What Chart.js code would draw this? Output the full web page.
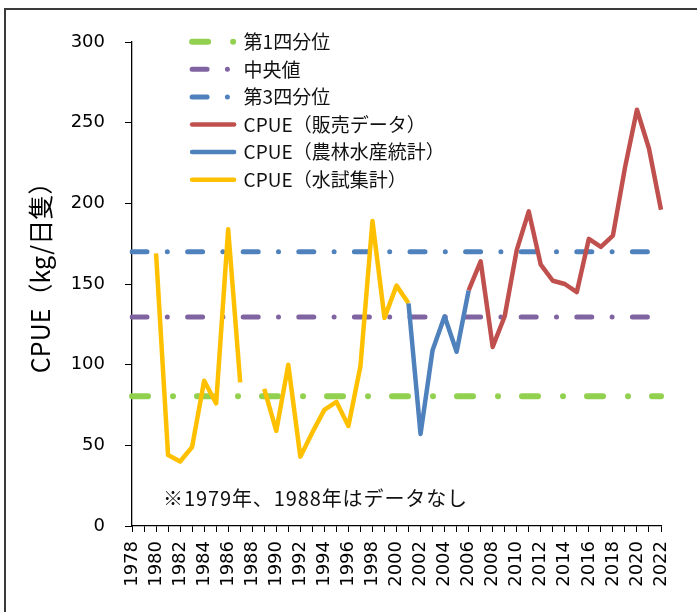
<!DOCTYPE html>
<html><head><meta charset="utf-8">
<script src="https://cdn.jsdelivr.net/npm/chart.js@4.4.1/dist/chart.umd.min.js"></script>
<style>
html,body{margin:0;padding:0;background:#fff;}
#wrap{position:relative;width:697px;height:612px;overflow:hidden;background:#fff;}
#frame{position:absolute;left:4px;top:8px;width:800px;height:800px;border-top:2px solid #3a3a3a;border-left:2px solid #3a3a3a;pointer-events:none;}
#note{position:absolute;left:163px;top:485px;font-size:20px;letter-spacing:0.9px;font-family:"Noto Sans CJK JP";color:#111;white-space:nowrap;line-height:26px;}
canvas{position:absolute;left:0;top:0;}
</style></head>
<body><div id="wrap"><canvas id="c" width="697" height="612"></canvas><div id="frame"></div><div id="note">※1979年、1988年はデータなし</div></div>
<script>
const years = ['1978','1979','1980','1981','1982','1983','1984','1985','1986','1987','1988','1989','1990','1991','1992','1993','1994','1995','1996','1997','1998','1999','2000','2001','2002','2003','2004','2005','2006','2007','2008','2009','2010','2011','2012','2013','2014','2015','2016','2017','2018','2019','2020','2021','2022'];
// CPUE（水試集計） 1978-2022
const cpueSurvey = [null,null,169,44,40,49,90,76,184,89,null,85,59,100,43,58,72,77,62,99,189,129,149,138,
  null,null,null,null,null,null,null,null,null,null,null,null,null,null,null,null,null,null,null,null,null];
// CPUE（農林水産統計） 1978-2022
const cpueStats = [null,null,null,null,null,null,null,null,null,null,null,null,null,null,null,null,null,null,null,null,null,null,null,
  138,57,109,130,108,146,
  null,null,null,null,null,null,null,null,null,null,null,null,null,null,null,null];
// CPUE（販売データ） 1978-2022
const cpueSales = [null,null,null,null,null,null,null,null,null,null,null,null,null,null,null,null,null,null,null,null,null,null,null,null,null,null,null,null,
  146,164,111,130,171,195,162,152,150,145,178,173,180,222,258,234,196];
const quartile1 = 80.5;
const medianValue = 129.5;
const quartile3 = 170;
const yTicks = [0,50,100,150,200,250,300];

const JP = '"Noto Sans CJK JP"';
const TICKF = '"DejaVu Sans"';

function refLine(v){ return [{x: years[0], y: v}, {x: years[years.length-1], y: v}]; }

const legendPlace = {
  id: 'legendPlace',
  afterLayout(chart) {
    const lg = chart.legend;
    const w = lg.width;
    lg.left = 183.5; lg.right = lg.left + w;
    lg.top = 23.6; lg.bottom = lg.top + 470;
  }
};

new Chart(document.getElementById('c'), {
  type: 'line',
  data: {
    labels: years,
    datasets: [
      {label: '第1四分位', data: refLine(quartile1), borderColor: '#92D050', backgroundColor: '#92D050', borderWidth: 6, borderDash: [16, 25, 0, 24], borderCapStyle: 'round', order: 1},
      {label: '中央値', data: refLine(medianValue), borderColor: '#8064A2', backgroundColor: '#8064A2', borderWidth: 5, borderDash: [15, 20.3, 0, 20.3], borderCapStyle: 'round', order: 1},
      {label: '第3四分位', data: refLine(quartile3), borderColor: '#4F81BD', backgroundColor: '#4F81BD', borderWidth: 5, borderDash: [15, 20.3, 0, 20.3], borderCapStyle: 'round', order: 1},
      {label: 'CPUE（販売データ）', data: cpueSales, borderColor: '#C0504D', backgroundColor: '#C0504D', borderWidth: 4.5, order: 0},
      {label: 'CPUE（農林水産統計）', data: cpueStats, borderColor: '#4F81BD', backgroundColor: '#4F81BD', borderWidth: 4.5, order: 0},
      {label: 'CPUE（水試集計）', data: cpueSurvey, borderColor: '#FFC000', backgroundColor: '#FFC000', borderWidth: 4.5, order: 0}
    ]
  },
  options: {
    responsive: false,
    animation: false,
    spanGaps: false,
    layout: {padding: {left: 0, top: 42, right: 36, bottom: 0}},
    elements: {
      point: {radius: 0, hoverRadius: 0},
      line: {tension: 0, borderJoinStyle: 'round', fill: false}
    },
    plugins: {
      tooltip: {enabled: false},
      legend: {
        position: 'chartArea',
        align: 'start',
        labels: {
          usePointStyle: true,
          pointStyleWidth: 42,
          boxHeight: 10,
          padding: 8.6,
          color: '#111',
          font: {family: JP, size: 19},
          generateLabels(chart) {
            return chart.data.datasets.map((ds, i) => ({
              text: ds.label,
              fillStyle: ds.borderColor,
              strokeStyle: ds.borderColor,
              lineWidth: ds.borderWidth,
              lineDash: ds.borderDash || [],
              lineCap: 'round',
              pointStyle: 'line',
              rotation: 180,
              hidden: false,
              datasetIndex: i,
              fontColor: '#111'
            }));
          }
        }
      }
    },
    scales: {
      x: {
        type: 'category',
        offset: false,
        afterFit(s) { s.height = 86; },
        grid: {display: true, drawOnChartArea: false, drawTicks: true, tickLength: 6, color: '#000', lineWidth: 1},
        border: {display: true, color: '#000', width: 1.3},
        ticks: {
          autoSkip: false, maxRotation: 90, minRotation: 90, padding: 9,
          color: '#000', font: {family: TICKF, size: 18},
          callback(v, i) { return i % 2 === 0 ? years[i] : ''; }
        }
      },
      y: {
        min: 0, max: 300,
        afterFit(s) { s.width = 132; },
        afterBuildTicks(s) { s.ticks = yTicks.map(v => ({value: v})); },
        grid: {display: true, drawOnChartArea: false, drawTicks: true, tickLength: 7, color: '#000', lineWidth: 1},
        border: {display: true, color: '#000', width: 1.3},
        ticks: {padding: 20, color: '#000', font: {family: TICKF, size: 18}},
        title: {display: true, text: '\u3000CPUE（kg/日隻）', color: '#000', font: {family: JP, size: 25}, padding: {top: 25, bottom: 0}}
      }
    }
  },
  plugins: [legendPlace]
});
</script>
</body></html>
